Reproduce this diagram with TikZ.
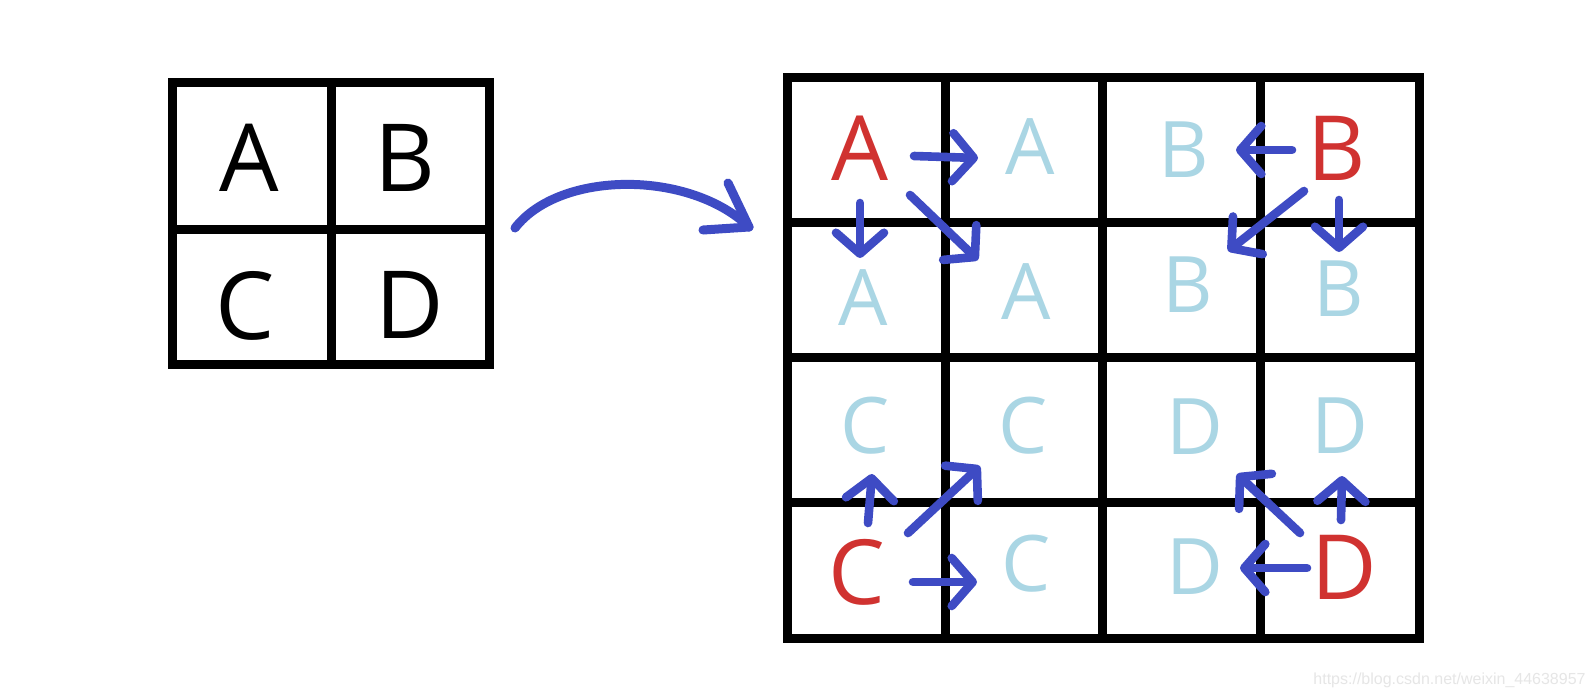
\documentclass[tikz,border=0pt]{standalone}
\usepackage{fontspec}
\setmainfont{Open Sans}
\newfontfamily\wmfont{Liberation Sans}
\usetikzlibrary{arrows.meta}
\definecolor{gridred}{RGB}{208,50,48}
\definecolor{copyblue}{RGB}{170,214,228}
\definecolor{arrowblue}{RGB}{62,75,196}
\definecolor{wmgray}{RGB}{230,230,230}
\begin{document}
\begin{tikzpicture}[x=0.5pt,y=-0.5pt,
  gridline/.style={line width=4.5pt, line cap=rect},
  gridframe/.style={line width=4.5pt, line join=miter},
  letterblack/.style={inner sep=0pt, font=\fontsize{47pt}{47pt}\selectfont, text=black},
  letterred/.style={inner sep=0pt, font=\fontsize{45pt}{45pt}\selectfont, text=gridred},
  lettercopy/.style={inner sep=0pt, font=\fontsize{39pt}{39pt}\selectfont, text=copyblue},
  moveto/.style={draw=arrowblue, line width=4.3pt, line cap=round,
    -{Straight Barb[length=10.5pt,width=24pt,round]}},
  bigarrow/.style={draw=arrowblue, line width=4.5pt, line cap=round, line join=round},
]
\useasboundingbox (0,0) rectangle (1596,698);
\fill[white] (0,0) rectangle (1596,698);

% ---------- small grid ----------
\draw[gridframe] (172,82) rectangle (489,364);
\draw[gridline] (331,82) -- (331,364);
\draw[gridline] (172,229) -- (489,229);
\node[letterblack] (sA) at (249,158) {A};
\node[letterblack] (sB) at (405,158) {B};
\node[letterblack] (sC) at (245,306) {C};
\node[letterblack] (sD) at (410,305) {D};

% ---------- curved arrow ----------
\coordinate (cs) at (515,228);
\coordinate (ct) at (749,227);
\coordinate (cb1) at (728,183);
\coordinate (cb2) at (703,230);
\draw[bigarrow] (cs) .. controls (560,170) and (690,170) .. (ct);
\draw[bigarrow] (cb1) -- (ct) -- (cb2);

% ---------- big grid ----------
\draw[gridframe] (787,77) rectangle (1419,638);
\foreach \x in {945,1102,1260} \draw[gridline] (\x,77) -- (\x,638);
\foreach \y in {222,357,502} \draw[gridline] (787,\y) -- (1419,\y);

% row 1
\node[letterred]  (A0) at (860,148) {A};
\node[lettercopy] (A1) at (1030,147) {A};
\node[lettercopy] (B1) at (1184,150) {B};
\node[letterred]  (B0) at (1337,148) {B};
% row 2
\node[lettercopy] (A2) at (863,298) {A};
\node[lettercopy] (A3) at (1026,292) {A};
\node[lettercopy] (B2) at (1188,285) {B};
\node[lettercopy] (B3) at (1339,289) {B};
% row 3
\node[lettercopy] (C1) at (865,426) {C};
\node[lettercopy] (C2) at (1023,426) {C};
\node[lettercopy] (D1) at (1195,427) {D};
\node[lettercopy] (D2) at (1340,426) {D};
% row 4
\node[letterred]  (C0) at (857,572) {C};
\node[lettercopy] (C3) at (1026,564) {C};
\node[lettercopy] (D3) at (1195,567) {D};
\node[letterred]  (D0) at (1344,567) {D};

% ---------- copy arrows ----------
\coordinate (a1s) at (914,156);  \coordinate (a1e) at (978,158);
\coordinate (a2s) at (860,203);  \coordinate (a2e) at (860,258);
\coordinate (a3s) at (910,195);  \coordinate (a3e) at (978,260);
\coordinate (b1s) at (1292,150); \coordinate (b1e) at (1236,150);
\coordinate (b2s) at (1304,191); \coordinate (b2e) at (1228,251);
\coordinate (b3s) at (1339,200); \coordinate (b3e) at (1339,252);
\coordinate (c1s) at (868,523);  \coordinate (c1e) at (872,474);
\coordinate (c2s) at (908,533);  \coordinate (c2e) at (980,466);
\coordinate (c3s) at (913,582);  \coordinate (c3e) at (977,582);
\coordinate (d1s) at (1307,568); \coordinate (d1e) at (1240,568);
\coordinate (d2s) at (1300,533); \coordinate (d2e) at (1237,474);
\coordinate (d3s) at (1341,520); \coordinate (d3e) at (1342,476);

\foreach \p in {a1,a2,a3,b1,b2,b3,c1,c2,c3,d1,d2,d3}
  \draw[moveto] (\p s) -- (\p e);

% ---------- watermark ----------
\node[inner sep=0pt, text=wmgray, font=\wmfont\fontsize{8pt}{8pt}\selectfont, anchor=east]
  (wm) at (1586,680) {https://blog.csdn.net/weixin\_44638957};
\end{tikzpicture}
\end{document}
